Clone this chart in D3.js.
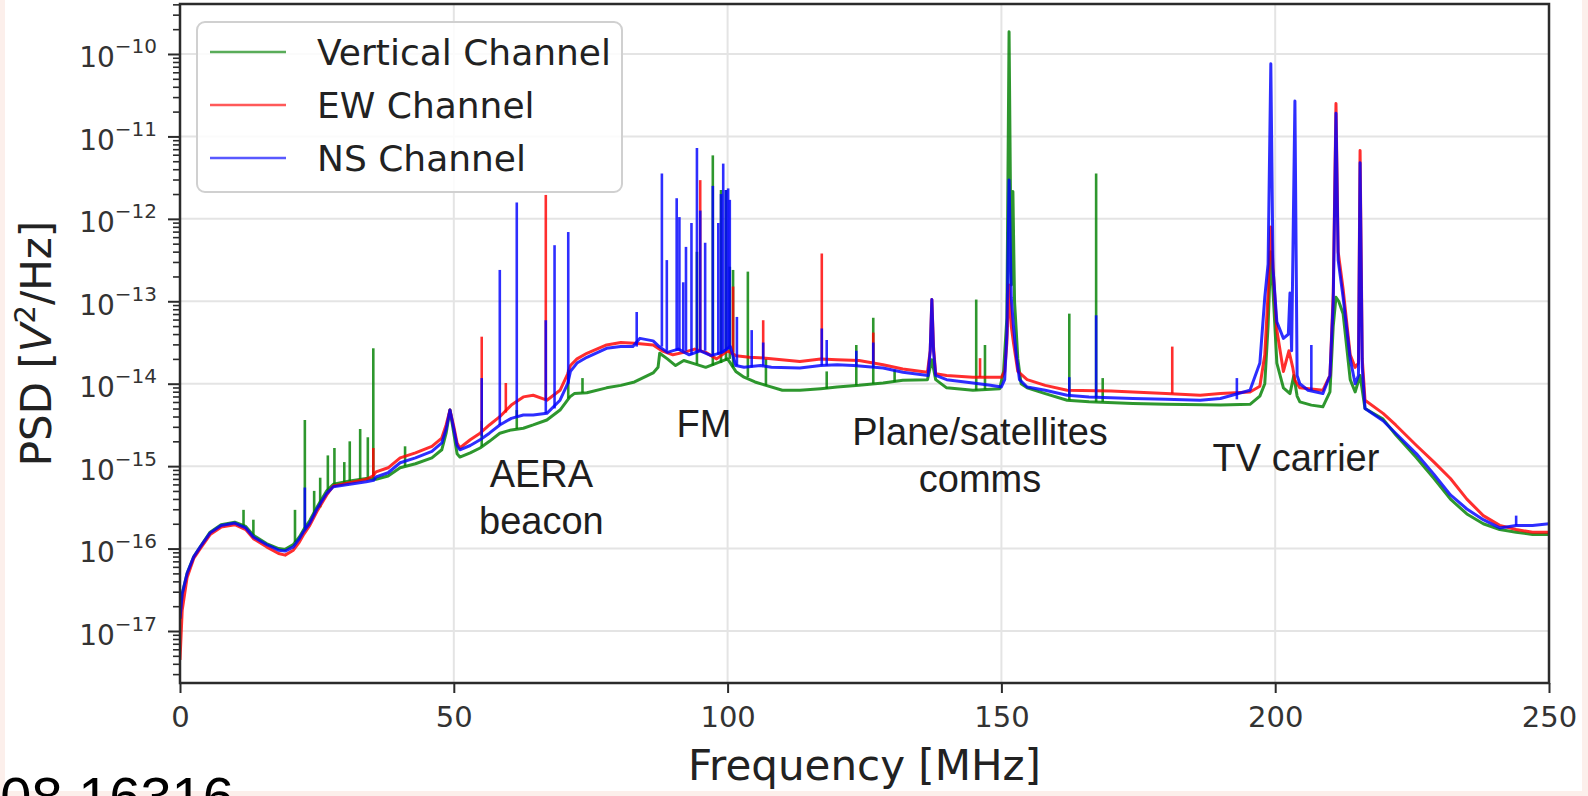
<!DOCTYPE html>
<html>
<head>
<meta charset="utf-8">
<script src="https://cdnjs.cloudflare.com/ajax/libs/d3/7.8.5/d3.min.js"></script>
<style>
  html, body { margin: 0; padding: 0; background: #fff; }
  svg { display: block; }
</style>
</head>
<body>
<svg id="chart" width="1588" height="796"></svg>
<script>
// ---------------------------------------------------------------------------
// Data: power spectral density per antenna channel, [frequency MHz, PSD V^2/Hz]
// ---------------------------------------------------------------------------
const channelNames = ["Vertical Channel", "EW Channel", "NS Channel"];
const freqTicks = [0, 50, 100, 150, 200, 250];
const psdTicks = [1e-17, 1e-16, 1e-15, 1e-14, 1e-13, 1e-12, 1e-11, 1e-10];

const verticalPsd = [
  [0.0, 1.41e-17], [0.4, 2.82e-17], [1.3, 5.01e-17], [2.5, 7.94e-17], [3.7, 1.05e-16],
  [5.5, 1.58e-16], [7.5, 1.95e-16], [10.0, 2.09e-16], [12.0, 1.86e-16], [13.4, 1.45e-16],
  [15.8, 1.15e-16], [18.0, 1.00e-16], [19.2, 9.77e-17], [20.7, 1.12e-16], [21.8, 1.38e-16],
  [22.5, 1.66e-16], [23.7, 2.19e-16], [25.0, 3.16e-16], [26.8, 5.01e-16], [28.0, 6.03e-16],
  [31.0, 6.61e-16], [34.0, 7.08e-16], [35.8, 6.92e-16], [38.0, 7.59e-16], [40.2, 9.55e-16],
  [43.0, 1.07e-15], [46.0, 1.26e-15], [47.8, 1.58e-15], [48.6, 2.51e-15], [49.3, 4.79e-15],
  [50.0, 2.51e-15], [50.6, 1.41e-15], [51.1, 1.29e-15], [53.0, 1.45e-15], [54.8, 1.66e-15],
  [56.5, 2.00e-15], [58.4, 2.51e-15], [60.5, 2.75e-15], [62.7, 2.88e-15], [64.5, 3.16e-15],
  [67.0, 3.63e-15], [69.4, 4.79e-15], [71.2, 6.92e-15], [72.0, 7.59e-15], [74.3, 7.76e-15],
  [77.9, 8.91e-15], [80.5, 9.55e-15], [83.0, 1.05e-14], [86.4, 1.35e-14], [87.3, 1.58e-14],
  [87.6, 2.34e-14], [89.0, 2.00e-14], [90.5, 1.66e-14], [92.0, 1.91e-14], [94.0, 1.74e-14],
  [96.0, 1.58e-14], [98.0, 1.78e-14], [100.0, 2.00e-14], [101.5, 1.41e-14], [103.0, 1.20e-14],
  [105.0, 1.05e-14], [107.0, 9.55e-15], [110.0, 8.32e-15], [113.2, 8.32e-15], [117.0, 8.71e-15],
  [120.0, 9.12e-15], [124.0, 9.55e-15], [128.4, 1.02e-14], [132.0, 1.10e-14], [136.5, 1.12e-14],
  [137.3, 1.95e-14], [138.0, 1.12e-14], [140.0, 8.91e-15], [144.8, 8.32e-15], [149.7, 8.71e-15],
  [150.4, 1.41e-14], [151.0, 6.31e-14], [151.4, 1.86e-10], [151.8, 1.58e-13], [152.1, 2.14e-12],
  [152.4, 1.00e-13], [153.0, 2.00e-14], [153.6, 1.00e-14], [154.7, 8.91e-15], [158.0, 7.59e-15],
  [162.0, 6.31e-15], [166.0, 6.03e-15], [174.0, 5.75e-15], [180.0, 5.62e-15], [190.0, 5.50e-15],
  [195.4, 5.62e-15], [197.2, 7.08e-15], [198.1, 1.00e-14], [198.7, 5.01e-14], [199.2, 3.98e-13],
  [199.7, 1.00e-13], [200.3, 1.78e-14], [201.5, 8.91e-15], [202.7, 7.59e-15], [203.4, 1.26e-14],
  [204.0, 7.08e-15], [204.5, 6.03e-15], [206.6, 5.50e-15], [208.7, 5.25e-15], [210.0, 7.94e-15],
  [210.6, 5.01e-14], [211.1, 1.12e-13], [211.6, 1.00e-13], [212.4, 7.08e-14], [213.7, 1.12e-14],
  [214.6, 7.94e-15], [215.5, 1.26e-14], [216.4, 5.01e-15], [219.7, 3.72e-15], [222.0, 2.40e-15],
  [225.8, 1.26e-15], [229.0, 7.08e-16], [232.0, 3.98e-16], [235.0, 2.63e-16], [238.0, 2.00e-16],
  [241.0, 1.70e-16], [244.0, 1.58e-16], [247.0, 1.48e-16], [250.0, 1.48e-16]
];

const ewPsd = [
  [0.0, 4.47e-18], [0.4, 1.78e-17], [1.3, 4.47e-17], [2.5, 7.59e-17], [3.7, 1.00e-16],
  [5.5, 1.48e-16], [7.5, 1.82e-16], [10.0, 1.95e-16], [12.0, 1.70e-16], [13.4, 1.32e-16],
  [15.8, 1.05e-16], [18.0, 8.71e-17], [19.2, 8.32e-17], [20.7, 9.55e-17], [21.8, 1.20e-16],
  [22.5, 1.45e-16], [23.7, 1.91e-16], [25.0, 2.82e-16], [26.8, 4.47e-16], [28.0, 5.75e-16],
  [31.0, 6.31e-16], [34.0, 6.92e-16], [35.2, 7.59e-16], [35.8, 8.51e-16], [38.0, 9.55e-16],
  [40.2, 1.26e-15], [43.0, 1.45e-15], [46.0, 1.74e-15], [47.8, 2.19e-15], [48.6, 3.16e-15],
  [49.3, 4.79e-15], [50.0, 3.02e-15], [50.6, 1.91e-15], [51.1, 1.66e-15], [53.0, 2.09e-15],
  [54.8, 2.51e-15], [56.5, 3.16e-15], [58.4, 3.98e-15], [60.5, 5.50e-15], [62.7, 6.92e-15],
  [64.5, 7.24e-15], [67.0, 6.31e-15], [69.4, 8.32e-15], [70.8, 1.32e-14], [71.3, 1.66e-14],
  [72.5, 2.00e-14], [74.3, 2.34e-14], [77.9, 2.95e-14], [80.5, 3.16e-14], [83.0, 3.09e-14],
  [86.4, 2.95e-14], [88.0, 2.51e-14], [90.0, 2.24e-14], [92.0, 2.40e-14], [94.0, 2.63e-14],
  [96.0, 2.40e-14], [98.0, 2.00e-14], [100.0, 2.51e-14], [101.5, 2.19e-14], [104.0, 2.09e-14],
  [107.0, 2.04e-14], [113.2, 1.86e-14], [117.0, 2.00e-14], [120.0, 1.95e-14], [124.0, 1.91e-14],
  [128.4, 1.70e-14], [132.0, 1.51e-14], [136.5, 1.38e-14], [137.0, 2.51e-14], [137.3, 1.05e-13],
  [137.6, 2.82e-14], [138.0, 1.32e-14], [140.0, 1.26e-14], [144.8, 1.20e-14], [150.0, 1.20e-14],
  [150.6, 1.41e-14], [151.0, 3.16e-14], [151.4, 1.58e-13], [151.8, 5.01e-14], [152.2, 3.16e-14],
  [153.0, 1.41e-14], [154.7, 1.12e-14], [158.0, 9.55e-15], [162.0, 8.32e-15], [170.0, 8.13e-15],
  [180.0, 7.59e-15], [186.3, 7.24e-15], [190.0, 7.59e-15], [195.4, 7.94e-15], [197.2, 9.33e-15],
  [198.1, 2.24e-14], [198.7, 1.26e-13], [199.2, 7.94e-13], [199.7, 2.00e-13], [200.3, 4.47e-14],
  [201.5, 1.41e-14], [202.5, 2.51e-14], [203.2, 1.58e-14], [203.6, 1.10e-14], [204.5, 8.91e-15],
  [208.7, 8.32e-15], [210.0, 1.26e-14], [210.6, 1.26e-13], [211.1, 2.51e-11], [211.5, 3.98e-13],
  [212.4, 1.41e-13], [213.7, 2.24e-14], [214.6, 1.58e-14], [215.2, 1.78e-14], [215.5, 6.76e-12],
  [215.9, 2.00e-14], [216.4, 6.31e-15], [219.7, 4.37e-15], [222.0, 3.16e-15], [225.8, 1.78e-15],
  [229.0, 1.12e-15], [232.0, 7.08e-16], [235.0, 3.98e-16], [238.0, 2.51e-16], [241.0, 1.91e-16],
  [244.0, 1.70e-16], [247.0, 1.58e-16], [250.0, 1.58e-16]
];

const nsPsd = [
  [0.0, 1.41e-17], [0.4, 2.82e-17], [1.3, 5.01e-17], [2.5, 7.94e-17], [3.7, 1.05e-16],
  [5.5, 1.55e-16], [7.5, 1.91e-16], [10.0, 2.04e-16], [12.0, 1.78e-16], [13.4, 1.38e-16],
  [15.8, 1.12e-16], [18.0, 9.55e-17], [19.2, 9.33e-17], [20.7, 1.05e-16], [21.8, 1.32e-16],
  [22.5, 1.58e-16], [23.7, 2.04e-16], [25.0, 3.02e-16], [26.8, 4.68e-16], [28.0, 5.62e-16],
  [31.0, 6.03e-16], [34.0, 6.46e-16], [35.4, 6.76e-16], [35.8, 7.41e-16], [38.0, 8.32e-16],
  [40.2, 1.10e-15], [43.0, 1.26e-15], [46.0, 1.51e-15], [47.8, 1.91e-15], [48.6, 2.82e-15],
  [49.3, 4.79e-15], [50.0, 2.82e-15], [50.6, 1.78e-15], [51.1, 1.58e-15], [53.0, 1.78e-15],
  [54.8, 2.09e-15], [56.5, 2.51e-15], [58.4, 3.16e-15], [60.5, 3.80e-15], [62.7, 4.17e-15],
  [64.5, 4.17e-15], [67.0, 4.37e-15], [69.4, 6.31e-15], [70.8, 1.00e-14], [71.3, 1.41e-14],
  [72.5, 1.78e-14], [74.3, 2.09e-14], [77.9, 2.69e-14], [80.5, 2.82e-14], [82.7, 2.82e-14],
  [84.0, 3.55e-14], [86.4, 3.31e-14], [87.5, 2.82e-14], [89.0, 2.40e-14], [91.0, 2.63e-14],
  [93.0, 2.24e-14], [95.0, 2.51e-14], [97.0, 2.19e-14], [99.0, 2.40e-14], [100.5, 2.82e-14],
  [101.5, 1.66e-14], [103.0, 1.58e-14], [106.0, 1.66e-14], [108.0, 1.58e-14], [113.2, 1.55e-14],
  [117.0, 1.66e-14], [120.0, 1.70e-14], [123.0, 1.66e-14], [128.4, 1.55e-14], [132.0, 1.38e-14],
  [136.6, 1.26e-14], [137.0, 2.51e-14], [137.3, 1.05e-13], [137.6, 2.51e-14], [138.0, 1.26e-14],
  [140.0, 1.12e-14], [144.8, 1.02e-14], [148.0, 9.55e-15], [150.0, 9.12e-15], [150.6, 1.12e-14],
  [151.0, 3.98e-14], [151.4, 2.95e-12], [151.8, 1.12e-13], [152.2, 5.01e-14], [152.7, 2.24e-14],
  [153.3, 1.12e-14], [154.7, 9.12e-15], [158.0, 8.32e-15], [162.0, 7.24e-15], [166.0, 6.92e-15],
  [170.0, 6.76e-15], [174.0, 6.61e-15], [180.0, 6.46e-15], [186.3, 6.31e-15], [190.0, 6.61e-15],
  [195.4, 8.32e-15], [197.2, 1.78e-14], [198.1, 1.12e-13], [198.7, 2.82e-13], [199.2, 7.59e-11],
  [199.6, 2.51e-13], [200.3, 5.62e-14], [201.5, 3.55e-14], [202.4, 3.98e-14], [202.7, 1.26e-13],
  [203.0, 2.51e-14], [203.6, 2.69e-11], [204.0, 1.26e-14], [204.5, 1.00e-14], [206.0, 8.32e-15],
  [208.7, 7.59e-15], [210.0, 1.26e-14], [210.6, 1.00e-13], [211.1, 1.91e-11], [211.5, 3.16e-13],
  [212.4, 1.12e-13], [213.7, 2.00e-14], [214.6, 1.00e-14], [215.2, 1.26e-14], [215.5, 4.79e-12],
  [215.9, 1.58e-14], [216.4, 5.01e-15], [219.7, 3.55e-15], [222.0, 2.51e-15], [225.8, 1.41e-15],
  [229.0, 7.94e-16], [232.0, 4.47e-16], [235.0, 3.02e-16], [238.0, 2.24e-16], [241.0, 1.78e-16],
  [244.0, 1.91e-16], [247.0, 1.91e-16], [250.0, 2.00e-16]
];

// Narrow carrier lines: [frequency MHz, floor PSD, peak PSD]
const verticalSpikes = [
  [11.6, 1.86e-16, 2.95e-16], [13.4, 1.45e-16, 2.24e-16], [21.0, 1.20e-16, 2.95e-16],
  [22.8, 1.66e-16, 3.63e-15], [24.5, 2.51e-16, 5.01e-16], [25.6, 3.16e-16, 7.24e-16],
  [27.0, 5.01e-16, 1.35e-15], [28.2, 6.03e-16, 1.66e-15], [30.0, 6.31e-16, 1.12e-15],
  [31.0, 6.61e-16, 2.00e-15], [32.9, 6.92e-16, 2.82e-15], [34.3, 7.08e-16, 2.24e-15],
  [35.3, 7.08e-16, 2.69e-14], [41.1, 1.00e-15, 1.74e-15], [55.1, 1.74e-15, 3.55e-15],
  [61.5, 2.82e-15, 4.79e-15], [70.9, 6.61e-15, 1.48e-14], [73.5, 7.76e-15, 1.17e-14],
  [94.4, 1.74e-14, 3.98e-13], [97.3, 1.66e-14, 5.89e-12], [98.8, 1.78e-14, 2.24e-12],
  [99.7, 1.91e-14, 2.24e-12], [100.4, 2.00e-14, 2.63e-13], [101.0, 1.58e-14, 2.40e-13],
  [103.7, 1.20e-14, 2.29e-13], [107.0, 9.55e-15, 2.00e-14], [118.1, 8.71e-15, 1.41e-14],
  [123.5, 9.55e-15, 2.95e-14], [126.6, 1.00e-14, 6.31e-14], [130.5, 1.05e-14, 1.48e-14],
  [145.4, 8.32e-15, 1.05e-13], [147.0, 8.51e-15, 2.95e-14], [162.4, 6.31e-15, 7.08e-14],
  [167.3, 6.03e-15, 3.55e-12], [168.5, 6.03e-15, 1.17e-14]
];

const ewSpikes = [
  [35.3, 7.59e-16, 1.66e-15], [55.1, 2.63e-15, 3.72e-14], [59.5, 4.47e-15, 1.02e-14],
  [66.8, 6.31e-15, 1.95e-12], [95.0, 2.51e-14, 2.95e-12], [101.0, 2.40e-14, 1.51e-13],
  [106.5, 2.04e-14, 5.89e-14], [117.2, 2.00e-14, 3.80e-13], [126.6, 1.78e-14, 4.17e-14],
  [146.1, 1.20e-14, 2.04e-14], [181.2, 7.59e-15, 2.82e-14]
];

const nsSpikes = [
  [22.8, 1.78e-16, 5.50e-16], [55.1, 2.29e-15, 1.17e-14], [58.4, 3.16e-15, 2.40e-13],
  [61.5, 3.98e-15, 1.58e-12], [66.8, 4.37e-15, 5.89e-14], [68.4, 5.01e-15, 4.79e-13],
  [70.9, 1.00e-14, 6.92e-13], [83.4, 2.82e-14, 7.41e-14], [88.0, 2.82e-14, 3.55e-12],
  [88.9, 2.51e-14, 3.16e-13], [90.7, 2.51e-14, 1.78e-12], [91.2, 2.51e-14, 1.05e-12],
  [91.9, 2.51e-14, 1.70e-13], [92.4, 2.51e-14, 4.57e-13], [93.4, 2.24e-14, 8.91e-13],
  [94.4, 2.40e-14, 7.24e-12], [95.0, 2.51e-14, 1.26e-12], [95.9, 2.51e-14, 5.13e-13],
  [97.3, 2.19e-14, 2.51e-12], [98.3, 2.24e-14, 8.91e-13], [98.8, 2.34e-14, 2.00e-12],
  [99.2, 2.40e-14, 4.68e-12], [99.7, 2.51e-14, 2.24e-12], [100.1, 2.63e-14, 2.34e-12],
  [100.4, 2.82e-14, 1.70e-12], [101.7, 1.66e-14, 6.46e-14], [104.4, 1.58e-14, 4.47e-14],
  [106.5, 1.66e-14, 3.16e-14], [117.2, 1.66e-14, 4.68e-14], [118.1, 1.66e-14, 3.39e-14],
  [123.5, 1.66e-14, 2.51e-14], [126.6, 1.58e-14, 3.16e-14], [162.4, 7.24e-15, 1.20e-14],
  [167.3, 6.92e-15, 6.76e-14], [193.0, 6.46e-15, 1.17e-14], [206.6, 8.32e-15, 2.95e-14],
  [244.0, 1.91e-16, 2.51e-16]
];

// Text annotations anchored in data space: [frequency MHz, PSD at first baseline]
const annotationLines = [["AERA", "beacon"], ["FM"], ["Plane/satellites", "comms"], ["TV carrier"]];
const annotationAnchors = [[66.0, 5.58e-16], [95.7, 2.26e-15], [146.1, 1.81e-15], [203.8, 8.73e-16]];

// ---------------------------------------------------------------------------
// Layout and style
// ---------------------------------------------------------------------------
const W = 1588, H = 796;
const plot = { left: 180, right: 1549, top: 4, bottom: 683 };
const style = {
  colors: ["#008000", "#ff0000", "#0000ff"],
  lineWidth: 3,
  lineOpacity: 0.82,
  axisColor: "#2b2b2b",
  gridColor: "#e4e4e4",
  slideColor: "#fcefeb",
  axisFont: "'DejaVu Sans', Verdana, sans-serif",
  noteFont: "'Liberation Sans', Arial, Helvetica, sans-serif"
};

const svg = d3.select("#chart");

// Page background and slide edges
svg.append("rect").attr("width", W).attr("height", H).attr("fill", "#fff");
svg.append("rect").attr("x", 0).attr("y", 0).attr("width", 5).attr("height", H).attr("fill", style.slideColor);
svg.append("rect").attr("x", 1582).attr("y", 0).attr("width", 6).attr("height", H).attr("fill", style.slideColor);
svg.append("rect").attr("x", 0).attr("y", 791).attr("width", W).attr("height", 5).attr("fill", style.slideColor);

const x = d3.scaleLinear().domain([0, 250]).range([plot.left, plot.right]);
const y = d3.scaleLog().domain([2.34e-18, 4.04e-10]).range([plot.bottom, plot.top]);

// Grid
const grid = svg.append("g").attr("stroke", style.gridColor).attr("stroke-width", 2);
grid.selectAll("line.gx").data(freqTicks).join("line")
  .attr("x1", d => x(d)).attr("x2", d => x(d))
  .attr("y1", plot.top).attr("y2", plot.bottom);
grid.selectAll("line.gy").data(psdTicks).join("line")
  .attr("y1", d => y(d)).attr("y2", d => y(d))
  .attr("x1", plot.left).attr("x2", plot.right);

// Curves
svg.append("clipPath").attr("id", "plotClip")
  .append("rect")
  .attr("x", plot.left).attr("y", plot.top)
  .attr("width", plot.right - plot.left).attr("height", plot.bottom - plot.top);

const curves = svg.append("g").attr("clip-path", "url(#plotClip)");
const line = d3.line().x(d => x(d[0])).y(d => y(d[1]));

const series = [
  { psd: verticalPsd, spikes: verticalSpikes },
  { psd: ewPsd, spikes: ewSpikes },
  { psd: nsPsd, spikes: nsSpikes }
];

series.forEach((s, i) => {
  const g = curves.append("g")
    .attr("stroke", style.colors[i])
    .attr("stroke-opacity", style.lineOpacity)
    .attr("stroke-width", style.lineWidth)
    .attr("fill", "none")
    .attr("stroke-linejoin", "round");
  g.append("path").attr("d", line(s.psd));
  g.selectAll("line").data(s.spikes).join("line")
    .attr("stroke-width", style.lineWidth - 0.4)
    .attr("x1", d => x(d[0])).attr("x2", d => x(d[0]))
    .attr("y1", d => y(d[1])).attr("y2", d => y(d[2]));
});

// Axes
const xAxis = d3.axisBottom(x).tickValues(freqTicks).tickSize(10).tickPadding(13).tickSizeOuter(0)
  .tickFormat(d3.format("d"));
const gx = svg.append("g").attr("transform", `translate(0,${plot.bottom})`).call(xAxis);
gx.select(".domain").remove();
gx.selectAll(".tick line").attr("stroke", style.axisColor).attr("stroke-width", 2);
gx.selectAll(".tick text")
  .attr("fill", "#333").attr("font-family", style.axisFont).attr("font-size", 29);

const minorTicks = [];
for (let e = -18; e <= -10; e++) {
  for (let k = 2; k <= 9; k++) {
    const v = k * Math.pow(10, e);
    if (v > y.domain()[0] && v < y.domain()[1]) minorTicks.push(v);
  }
}
const yMinor = svg.append("g").attr("transform", `translate(${plot.left},0)`)
  .call(d3.axisLeft(y).tickValues(minorTicks).tickSize(7).tickFormat(""));
yMinor.select(".domain").remove();
yMinor.selectAll(".tick line").attr("stroke", style.axisColor).attr("stroke-width", 1.6);

const yAxis = d3.axisLeft(y).tickValues(psdTicks).tickSize(12).tickPadding(11).tickSizeOuter(0);
const gy = svg.append("g").attr("transform", `translate(${plot.left},0)`).call(yAxis);
gy.select(".domain").remove();
gy.selectAll(".tick line").attr("stroke", style.axisColor).attr("stroke-width", 2);
gy.selectAll(".tick text").each(function (d) {
  const t = d3.select(this);
  const exp = Math.round(Math.log10(d));
  t.text(null)
    .attr("dy", 13)
    .attr("fill", "#333")
    .attr("font-family", style.axisFont)
    .attr("font-size", 28);
  t.append("tspan").text("10");
  t.append("tspan").attr("dy", -14).attr("font-size", 20).text("\u2212" + Math.abs(exp));
});

// Frame
svg.append("rect")
  .attr("x", plot.left).attr("y", plot.top)
  .attr("width", plot.right - plot.left).attr("height", plot.bottom - plot.top)
  .attr("fill", "none").attr("stroke", style.axisColor).attr("stroke-width", 2.5);

// Axis titles
svg.append("text")
  .attr("x", (plot.left + plot.right) / 2).attr("y", 780)
  .attr("text-anchor", "middle")
  .attr("font-family", style.axisFont).attr("font-size", 42).attr("fill", "#222")
  .text("Frequency [MHz]");

const yTitle = svg.append("text")
  .attr("transform", `translate(51,${(plot.top + plot.bottom) / 2}) rotate(-90)`)
  .attr("text-anchor", "middle")
  .attr("font-family", style.axisFont).attr("font-size", 42).attr("fill", "#222");
yTitle.append("tspan").text("PSD [");
yTitle.append("tspan").attr("font-style", "italic").text("V");
yTitle.append("tspan").attr("font-size", 29).attr("dy", -16).text("2");
yTitle.append("tspan").attr("dy", 16).text("/Hz]");

// Annotations
annotationLines.forEach((lines, i) => {
  const [f, p] = annotationAnchors[i];
  const t = svg.append("text")
    .attr("text-anchor", "middle")
    .attr("font-family", style.noteFont).attr("font-size", 38).attr("fill", "#1e1e1e");
  lines.forEach((s, j) => {
    t.append("tspan").attr("x", x(f)).attr("y", y(p) + j * 47).text(s);
  });
});

// Legend
const legend = svg.append("g");
legend.append("rect")
  .attr("x", 197).attr("y", 22).attr("width", 425).attr("height", 170).attr("rx", 8)
  .attr("fill", "#fff").attr("fill-opacity", 0.85)
  .attr("stroke", "#d0d0d0").attr("stroke-width", 2);
channelNames.forEach((name, i) => {
  const ly = 52 + i * 53;
  legend.append("line")
    .attr("x1", 210).attr("x2", 286).attr("y1", ly).attr("y2", ly)
    .attr("stroke", style.colors[i]).attr("stroke-opacity", 0.65).attr("stroke-width", 2.6);
  legend.append("text")
    .attr("x", 317).attr("y", ly + 13)
    .attr("font-family", style.axisFont).attr("font-size", 36).attr("fill", "#222")
    .text(name);
});

// Document reference in the slide corner
svg.append("text")
  .attr("x", -62).attr("y", 816)
  .attr("font-family", style.noteFont).attr("font-size", 56).attr("fill", "#000")
  .text("2408.16316");
</script>
</body>
</html>
